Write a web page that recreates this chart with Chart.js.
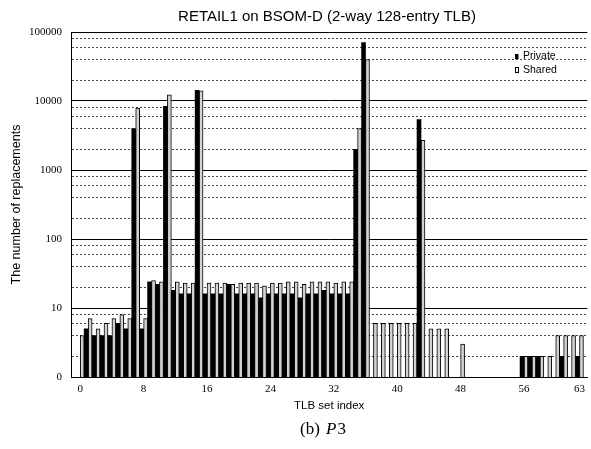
<!DOCTYPE html>
<html>
<head>
<meta charset="utf-8">
<title>RETAIL1 on BSOM-D</title>
<script src="https://cdn.jsdelivr.net/npm/chart.js@4.4.1/dist/chart.umd.min.js"></script>
<style>
  html, body { margin: 0; padding: 0; background: #fff; }
  #wrap { position: relative; width: 591px; height: 449px; overflow: hidden; }
  #chart { position: absolute; left: 0; top: 0; }
  .chart-title {
    position: absolute; left: 63px; width: 528px; top: 7px;
    text-align: center; color: #000;
    font: 15px 'Liberation Sans', Arial, sans-serif; line-height: 18px;
  }
  .caption {
    position: absolute; left: 223px; width: 200px; top: 419px;
    text-align: center; color: #000;
    font: 17px 'Liberation Serif', 'Times New Roman', serif; line-height: 20px;
  }
  .caption i { margin-left: 2px; margin-right: 1px; }
</style>
</head>
<body>
<div id="wrap">
  <canvas id="chart" width="591" height="449"></canvas>
  <div class="chart-title">RETAIL1 on BSOM-D (2-way 128-entry TLB)</div>
  <div class="caption">(b) <i>P</i>3</div>
</div>

<script>
// ============================================================
// TLB replacements per set — Private vs Shared, log scale
// ============================================================

// ---------- Data ----------

const SETS = Array.from({ length: 64 }, (_, i) => i);

const PRIVATE = [
  0, 5, 4, 4, 4, 6, 5, 4000,
  5, 24, 22, 8400, 18, 16, 16, 14300,
  16, 16, 16, 22, 16, 16, 16, 14,
  16, 16, 16, 16, 14, 16, 16, 18,
  16, 16, 16, 2000, 70000, 0, 0, 0,
  0, 0, 0, 5400, 0, 0, 0, 0,
  0, 0, 0, 0, 0, 0, 0, 0,
  2, 2, 2, 0, 0, 2, 0, 2,
];

const SHARED = [
  4, 7, 5, 6, 7, 8, 7, 7900,
  7, 25, 24, 12300, 24, 23, 23, 14000,
  23, 23, 23, 22, 23, 23, 23, 21,
  23, 23, 24, 24, 22, 24, 24, 24,
  23, 24, 24, 4000, 40000, 6, 6, 6,
  6, 6, 6, 2700, 5, 5, 5, 0,
  3, 0, 0, 0, 0, 0, 0, 0,
  2, 2, 2, 2, 4, 4, 4, 4,
];

const X_TICKS = [0, 8, 16, 24, 32, 40, 48, 56, 63];

// decades get a solid line and a label, the 2/4/6/8 steps a dotted line
const Y_DECADES = [1, 10, 100, 1000, 10000, 100000];
const Y_LABELS = ['0', '10', '100', '1000', '10000', '100000'];
const Y_STEPS = [2, 4, 6, 8];

// ---------- Helpers ----------

const SERIF = "'Liberation Serif', 'Times New Roman', serif";
const SANS = "'Liberation Sans', Arial, sans-serif";

const isDecade = (v) => Y_DECADES.includes(v);

const yGridValues = () => {
  const out = [];
  Y_DECADES.forEach((d, i) => {
    out.push(d);
    if (i < Y_DECADES.length - 1) Y_STEPS.forEach(s => out.push(d * s));
  });
  return out;
};

const toPoints = (arr) => arr.map((v, i) => ({ x: SETS[i], y: v }));

// empty sets sit on the axis: no outline and no anti-alias inflate for them
const hasBar = (ctx) => ctx.raw && ctx.raw.y > 1;
const outlineIfBar = (ctx) => (hasBar(ctx) ? 1 : 0);
const inflateIfBar = (ctx) => (hasBar(ctx) ? 'auto' : 0);

// small legend in the upper right of the plot
const cornerLegend = {
  id: 'cornerLegend',
  afterDraw(chart) {
    const { ctx } = chart;
    ctx.save();
    ctx.font = `10.5px ${SANS}`;
    ctx.textBaseline = 'alphabetic';
    chart.data.datasets.forEach((ds, i) => {
      const base = 59 + i * 14;
      if (i === 0) {
        ctx.fillStyle = '#000';
        ctx.fillRect(515, base - 5, 3.5, 5);
      } else {
        ctx.fillStyle = '#fff';
        ctx.fillRect(515, base - 6, 4, 5);
        ctx.strokeStyle = '#000';
        ctx.lineWidth = 1;
        ctx.strokeRect(515.5, base - 5.5, 3, 5);
      }
      ctx.fillStyle = '#000';
      ctx.fillText(ds.label, 523, base);
    });
    ctx.restore();
  },
};

// ---------- Chart ----------

new Chart(document.getElementById('chart'), {
  type: 'bar',
  data: {
    datasets: [
      {
        label: 'Private',
        data: toPoints(PRIVATE),
        backgroundColor: '#000',
        borderWidth: 0,
        inflateAmount: inflateIfBar,
        barPercentage: 1,
        categoryPercentage: 1,
      },
      {
        label: 'Shared',
        data: toPoints(SHARED),
        backgroundColor: '#d2d2d2',
        borderColor: '#000',
        borderWidth: outlineIfBar,
        inflateAmount: inflateIfBar,
        barPercentage: 1,
        categoryPercentage: 1,
      },
    ],
  },
  options: {
    responsive: false,
    animation: false,
    events: [],
    layout: { padding: { top: 32, right: 0, bottom: 36, left: 0 } },
    plugins: {
      legend: { display: false },
      tooltip: { enabled: false },
      title: { display: false },
    },
    scales: {
      x: {
        type: 'linear',
        min: -1.164,
        max: 64,
        offset: false,
        afterBuildTicks: (s) => { s.ticks = X_TICKS.map(v => ({ value: v })); },
        afterFit: (s) => { s.height = 36; },
        ticks: {
          autoSkip: false,
          maxRotation: 0,
          padding: 6,
          color: '#000',
          font: { family: SERIF, size: 11 },
          callback: (v) => String(v),
        },
        grid: { display: false, drawTicks: false },
        border: { color: '#000', width: 1 },
        title: {
          display: true,
          text: 'TLB set index',
          color: '#000',
          font: { family: SANS, size: 11.5 },
          padding: { top: 0, bottom: 0 },
        },
      },
      y: {
        type: 'logarithmic',
        min: 1,
        max: 100000,
        afterBuildTicks: (s) => { s.ticks = yGridValues().map(v => ({ value: v })); },
        afterFit: (s) => { s.width = 71; },
        ticks: {
          autoSkip: false,
          padding: 9,
          color: '#000',
          font: { family: SERIF, size: 11 },
          callback: (v) => {
            const i = Y_DECADES.indexOf(v);
            return i >= 0 ? Y_LABELS[i] : '';
          },
        },
        grid: {
          drawTicks: false,
          lineWidth: 1,
          color: (ctx) => (ctx.tick && !isDecade(ctx.tick.value) ? '#444' : '#000'),
        },
        border: {
          color: '#000',
          width: 1,
          dash: (ctx) => (ctx.tick && !isDecade(ctx.tick.value) ? [2, 2] : []),
        },
        title: {
          display: true,
          text: 'The number of replacements',
          color: '#000',
          font: { family: SANS, size: 12.5 },
          padding: { top: 9.5, bottom: 0 },
        },
      },
    },
  },
  plugins: [cornerLegend],
});
</script>
</body>
</html>
